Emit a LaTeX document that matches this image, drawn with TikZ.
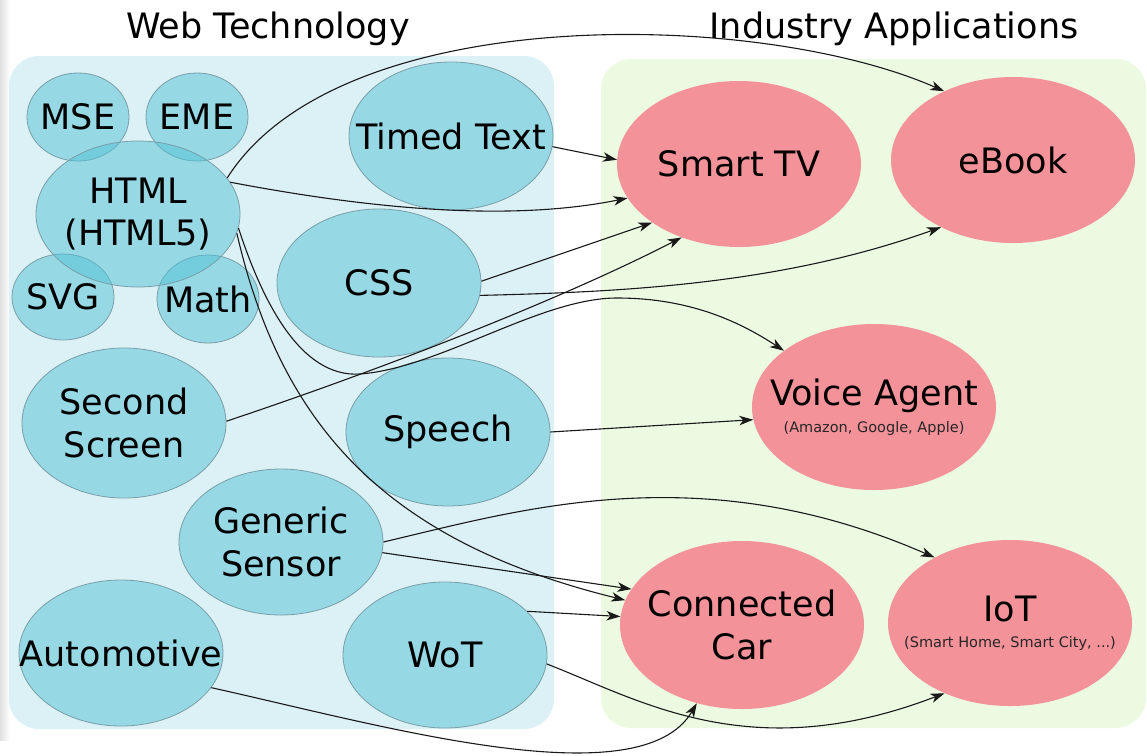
\documentclass[tikz,border=0pt]{standalone}
\usepackage{fontspec}
\setmainfont{DejaVu Sans}
\usetikzlibrary{arrows.meta, shapes.geometric}

\definecolor{webpanel}{RGB}{219,241,246}
\definecolor{apppanel}{RGB}{237,250,226}
\definecolor{webnode}{RGB}{82,194,214}
\definecolor{webline}{RGB}{120,158,168}
\definecolor{appnode}{RGB}{244,146,154}

\newcommand{\lbl}[1]{\makebox[0pt]{#1}}
\newcommand{\sublbl}[1]{\makebox[0pt]{\fontsize{14.5}{16}\selectfont\color{black!85}#1}}

\begin{document}
\begin{tikzpicture}[x=1pt, y=-1pt,
        web/.style={ellipse, inner sep=0pt, minimum width=204pt, minimum height=146pt,
                fill=webnode, fill opacity=0.5, draw=webline, draw opacity=1, text opacity=1,
                line width=0.8pt, align=center, font=\fontsize{35}{42.5}\selectfont},
        bubble/.style={minimum width=102pt, minimum height=88pt},
        app/.style={ellipse, inner sep=0pt, minimum width=244pt, minimum height=166pt,
                fill=appnode, align=center, font=\fontsize{35}{42.5}\selectfont},
        link/.style={line width=1.1pt, black!90, -{Stealth[length=14pt, width=9.5pt, inset=4pt]}}]
        \useasboundingbox (0,0) rectangle (1147,755);
        \shade[left color=black!12, right color=white] (0,0) rectangle (10,740);
        \fill[webpanel, rounded corners=30pt] (9,56) rectangle (554,729);
        \fill[apppanel, rounded corners=30pt] (601,59) rectangle (1146,728);

        \node[anchor=base, font=\fontsize{35}{42}\selectfont] (webtitle) at (268,38) {Web Technology};
        \node[anchor=base, font=\fontsize{35}{42}\selectfont] (apptitle) at (894,38) {Industry Applications};

        \node[web, bubble] (mse) at (78,117) {\lbl{MSE}};
        \node[web, bubble] (eme) at (197,117) {\lbl{EME}};
        \node[web, bubble, minimum height=86pt] (svg) at (63,297) {\lbl{SVG}};
        \node[web, bubble] (math) at (208,299) {\lbl{Math}};
        \node[web] (html) at (138,214) {\lbl{HTML}\\\lbl{(HTML5)}};
        \node[web, minimum height=148pt] (timed) at (451,136) {\lbl{Timed Text}};
        \node[web, minimum height=148pt] (css) at (379,283) {\lbl{CSS}};
        \node[web, minimum height=150pt] (second) at (124,423) {\lbl{Second}\\\lbl{Screen}};
        \node[web, minimum height=148pt] (speech) at (448,432) {\lbl{Speech}};
        \node[web] (sensor) at (281,542) {\lbl{Generic}\\\lbl{Sensor}};
        \node[web] (auto) at (121,653) {\lbl{Automotive}};
        \node[web] (wot) at (445,655) {\lbl{WoT}};

        \node[app] (tv) at (739,164) {\lbl{Smart TV}};
        \node[app] (ebook) at (1013,160) {\lbl{eBook}};
        \node[app] (voice) at (874,407) {\lbl{Voice Agent}\\[-16pt]\sublbl{(Amazon, Google, Apple)}};
        \node[app, minimum height=168pt] (car) at (742,625) {\lbl{Connected}\\\lbl{Car}};
        \node[app] (iot) at (1010,623) {\lbl{IoT}\\[-16pt]\sublbl{(Smart Home, Smart City, ...)}};

        \draw[link] (html.22) .. controls (340,0) and (760,10) .. (ebook.135);
        \draw[link] (html.19) .. controls (350,205) and (500,224) .. (tv.197);
        \draw[link] (timed.-6) -- (tv.178);
        \draw[link] (css.1) -- (tv.214);
        \draw[link] (css.-7) .. controls (620,292) and (780,285) .. (ebook.223);
        \draw[link] (html.-8) .. controls (262,300) and (300,378) .. (360,374)
                .. controls (440,368) and (540,298) .. (617,298)
                .. controls (690,298) and (740,322) .. (voice.148);
        \draw[link] (html.-11) .. controls (280,420) and (380,540) .. (car.168);
        \draw[link] (second.1) .. controls (380,370) and (560,300) .. (tv.232);
        \draw[link] (speech.0) -- (voice.186);
        \draw[link] (sensor.0) .. controls (520,510) and (700,455) .. (iot.139);
        \draw[link] (sensor.-6) -- (car.162);
        \draw[link] (wot.28) -- (car.176);
        \draw[link] (wot.-5) .. controls (640,700) and (750,768) .. (iot.227);
        \draw[link] (auto.-21) .. controls (380,725) and (640,800) .. (car.240);
\end{tikzpicture}
\end{document}
